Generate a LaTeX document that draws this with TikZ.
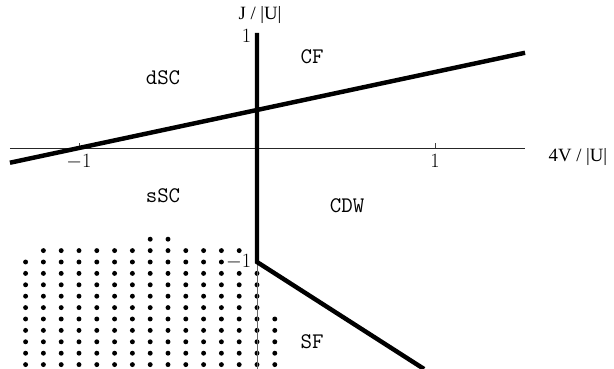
\documentclass[tikz,border=0pt]{standalone}
\usepackage{fontspec}
\usepackage{tikz}
\newfontfamily\axisfont{Liberation Serif}
\usetikzlibrary{positioning}

\begin{document}
\begin{tikzpicture}[x=5.34cm, y=3.42cm,
    region/.style={font=\ttfamily\fontsize{19}{19}\selectfont},
    ticklabel/.style={font=\fontsize{17}{17}\selectfont, inner sep=1pt},
    axislabel/.style={font=\axisfont\fontsize{16}{16}\selectfont, inner sep=1pt},
    phaseline/.style={line width=3.8pt},
    dot/.style={fill=black}]
    \useasboundingbox (-1.4438,-1.9386) rectangle (2.0056,1.2982);

    % Phase separated region
    \foreach \i in {-6,-5} {
        \fill[dot] (\i/10, -0.8) circle[radius=2.1pt];
    }
    \foreach \i in {-12,...,-1} {
        \fill[dot] (\i/10, -0.9) circle[radius=2.1pt];
    }
    \foreach \i in {-13,...,-2} {
        \fill[dot] (\i/10, -1.0) circle[radius=2.1pt];
    }
    \foreach \j in {11,...,14} {
        \foreach \i in {-13,...,0} {
            \fill[dot] (\i/10, -\j/10) circle[radius=2.1pt];
        }
    }
    \foreach \j in {15,...,19} {
        \foreach \i in {-13,...,1} {
            \fill[dot] (\i/10, -\j/10) circle[radius=2.1pt];
        }
    }

    % Axes
    \draw[black!85, line width=0.8pt] (-1.388, 0) -- (1.506, 0);
    \draw[black!60, line width=0.8pt] (0, -1.9386) -- (0, 1.01);
    \foreach \x in {-1, 1} {
        \draw[black!75, line width=0.6pt] (\x, 0) -- (\x, 0.04);
    }

    % Phase boundaries
    \draw[phaseline] (-1.388, -0.1293) -- (1.506, 0.8353);
    \draw[phaseline] (0, 1.01) -- (0, -1) -- (0.9386, -1.9386);

    % Tick labels
    \node[ticklabel, anchor=north] (xm1) at (-1, -0.04) {$-1$};
    \node[ticklabel, anchor=north] (xp1) at (1, -0.04) {$1$};
    \node[ticklabel, anchor=east] (yp1) at (-0.025, 0.98) {$1$};
    \node[ticklabel, anchor=east] (ym1) at (-0.025, -1.0) {$-1$};

    % Axis labels
    \node[axislabel] (jlab) at (0.017, 1.17) {J / |U|};
    \node[axislabel] (vlab) at (1.803, -0.079) {4V / |U|};

    % Phases
    \node[region] (dsc) at (-0.528, 0.614) {dSC};
    \node[region] (cf) at (0.309, 0.798) {CF};
    \node[region] (ssc) at (-0.528, -0.421) {sSC};
    \node[region] (cdw) at (0.506, -0.509) {CDW};
    \node[region] (sf) at (0.309, -1.70) {SF};
\end{tikzpicture}
\end{document}
